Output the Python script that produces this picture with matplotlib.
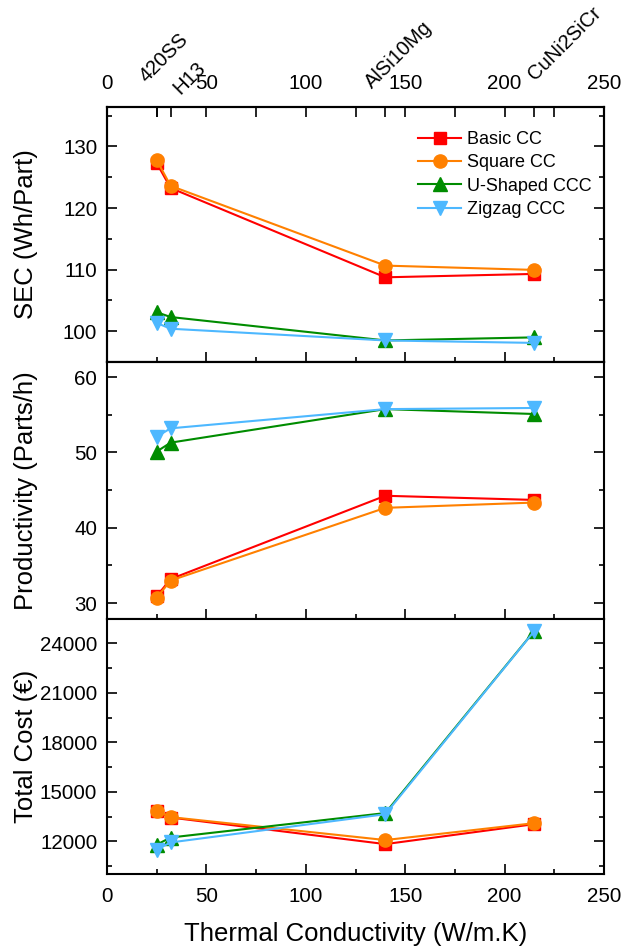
import matplotlib
matplotlib.use("Agg")
import matplotlib.pyplot as plt
import matplotlib.transforms as mtransforms

plt.rcParams["font.family"] = ["Liberation Sans", "DejaVu Sans"]

# thermal conductivity of each material (W/m.K)
materials = ["420SS", "H13", "AlSi10Mg", "CuNi2SiCr"]
conductivity = [24.9, 32, 140, 215]

series = ["Basic CC", "Square CC", "U-Shaped CCC", "Zigzag CCC"]

sec = {
    "Basic CC": [127.35, 123.25, 108.75, 109.3],
    "Square CC": [127.85, 123.6, 110.65, 109.95],
    "U-Shaped CCC": [103.1, 102.3, 98.5, 99.0],
    "Zigzag CCC": [101.35, 100.4, 98.5, 98.1],
}
productivity = {
    "Basic CC": [30.9, 33.2, 44.25, 43.7],
    "Square CC": [30.7, 33.0, 42.65, 43.35],
    "U-Shaped CCC": [50.1, 51.3, 55.75, 55.1],
    "Zigzag CCC": [52.07, 53.2, 55.75, 55.9],
}
total_cost = {
    "Basic CC": [13815, 13450, 11840, 13050],
    "Square CC": [13860, 13475, 12085, 13110],
    "U-Shaped CCC": [11800, 12240, 13720, 24760],
    "Zigzag CCC": [11500, 11940, 13650, 24750],
}

colors = {"Basic CC": "#ff0000", "Square CC": "#ff8000",
          "U-Shaped CCC": "#008c00", "Zigzag CCC": "#4db8ff"}
markers = {"Basic CC": ("s", 8), "Square CC": ("o", 9.5),
           "U-Shaped CCC": ("^", 10), "Zigzag CCC": ("v", 10)}

fig = plt.figure(figsize=(6.31, 9.46), dpi=100)
left, width = 107 / 631, 497 / 631
ax1 = fig.add_axes([left, 1 - 362 / 946, width, 255 / 946])
ax2 = fig.add_axes([left, 1 - 619 / 946, width, 257 / 946])
ax3 = fig.add_axes([left, 1 - 874 / 946, width, 255 / 946])

panels = [
    (ax1, sec, "SEC (Wh/Part)", (95, 136.4), 10, 5),
    (ax2, productivity, "Productivity (Parts/h)", (27.9, 62), 10, 5),
    (ax3, total_cost, "Total Cost (€)", (10030, 25470), 3000, 1500),
]

for ax, data, ylabel, ylim, major, minor in panels:
    for s in series:
        m, ms = markers[s]
        ax.plot(conductivity, data[s], color=colors[s], marker=m, ms=ms,
                lw=1.5, label=s)
    ax.set_xlim(0, 250)
    ax.set_ylim(*ylim)
    ax.xaxis.set_major_locator(plt.MultipleLocator(50))
    ax.xaxis.set_minor_locator(plt.MultipleLocator(25))
    ax.yaxis.set_major_locator(plt.MultipleLocator(major))
    ax.yaxis.set_minor_locator(plt.MultipleLocator(minor))
    ax.tick_params(which="both", direction="in", left=True, right=True,
                   top=False, bottom=True, width=1.2, labelsize=14.8)
    ax.tick_params(which="major", length=7)
    ax.tick_params(which="minor", length=3.5)
    ax.tick_params(axis="y", pad=7)
    ax.tick_params(axis="x", pad=9)
    for sp in ax.spines.values():
        sp.set_linewidth(1.5)
    ax.set_ylabel(ylabel, fontsize=18.5)
    ax.yaxis.set_label_coords(-0.139, 0.5)

ax1.tick_params(axis="x", labelbottom=False)
ax2.tick_params(axis="x", labelbottom=False)
ax3.set_xlabel("Thermal Conductivity (W/m.K)", fontsize=18.5, labelpad=12)

# top axis with material markers
axt = ax1.twiny()
axt.set_xlim(0, 250)
axt.set_xticks([0, 50, 100, 150, 200, 250])
axt.set_xticks([25, 75, 125, 175, 225] + conductivity, minor=True)
axt.tick_params(which="both", direction="in", width=1.2, labelsize=14.8, pad=10)
axt.tick_params(which="major", length=7)
axt.tick_params(which="minor", length=7)
for sp in axt.spines.values():
    sp.set_linewidth(1.5)

trans = mtransforms.blended_transform_factory(ax1.transData, ax1.transAxes)
label_x = [20.0, 37.0, 133.5, 215.5]
label_y = [1.094, 1.047, 1.071, 1.102]
for name, lx, ly in zip(materials, label_x, label_y):
    ax1.text(lx, ly, name, transform=trans, rotation=45, rotation_mode="anchor",
             ha="left", va="baseline", fontsize=14.5, clip_on=False)

ax1.legend(loc="upper right", bbox_to_anchor=(1.0, 0.955), frameon=False,
           fontsize=13, handlelength=2.4, labelspacing=0.35, handletextpad=0.3,
           borderaxespad=0.3)

fig.savefig("out.png", dpi=100)
